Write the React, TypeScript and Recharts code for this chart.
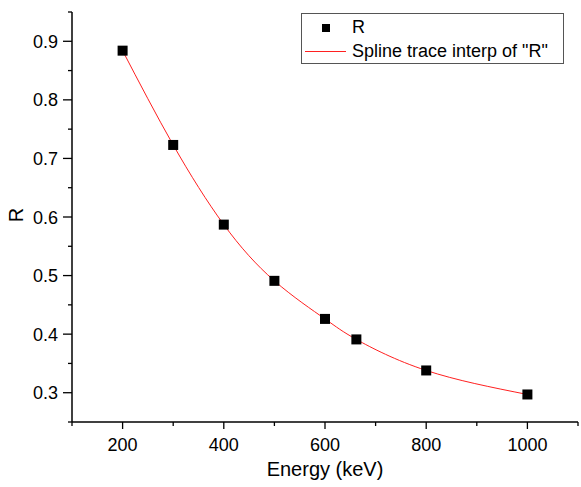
import { ComposedChart, Line, XAxis, YAxis } from "recharts";

const energy = [200, 300, 400, 500, 600, 662, 800, 1000];
const rValues = [0.884, 0.723, 0.587, 0.491, 0.426, 0.391, 0.338, 0.297];
const xTicks = [100, 200, 300, 400, 500, 600, 700, 800, 900, 1000, 1100];
const xLabels = [200, 400, 600, 800, 1000];
const yTicks = [0.25, 0.3, 0.35, 0.4, 0.45, 0.5, 0.55, 0.6, 0.65, 0.7, 0.75, 0.8, 0.85, 0.9, 0.95];
const yLabels = ["0.3", "0.4", "0.5", "0.6", "0.7", "0.8", "0.9"];

const data = energy.map((e, i) => ({ e, r: rValues[i] }));

const FONT = "'Liberation Sans', Arial, sans-serif";

const XTick = (props: any) => {
  const { x, y, payload } = props;
  const major = xLabels.includes(payload.value);
  return (
    <g>
      <line x1={x} x2={x} y1={y} y2={y + (major ? 7 : 4)} stroke="#000" strokeWidth={1.3} />
      {major && (
        <text x={x} y={y + 29} textAnchor="middle" fontSize={18} fill="#000" fontFamily={FONT}>
          {payload.value}
        </text>
      )}
    </g>
  );
};

const YTick = (props: any) => {
  const { x, y, payload } = props;
  const label = payload.value.toFixed(1);
  const major = yLabels.includes(label) && Math.abs(payload.value * 10 - Math.round(payload.value * 10)) < 1e-6;
  return (
    <g>
      <line x1={x - (major ? 9 : 4)} x2={x} y1={y} y2={y} stroke="#000" strokeWidth={1.3} />
      {major && (
        <text x={x - 14} y={y + 6.5} textAnchor="end" fontSize={18} fill="#000" fontFamily={FONT}>
          {label}
        </text>
      )}
    </g>
  );
};

const Square = (props: any) => {
  const { cx, cy } = props;
  if (cx == null || cy == null) return null;
  return <rect x={cx - 5} y={cy - 5} width={10} height={10} fill="#000" />;
};

export default function App() {
  return (
    <div style={{ position: "fixed", left: 0, top: 0, width: 581, height: 487, background: "#fff", fontFamily: FONT }}>
      <ComposedChart width={581} height={487} data={data} margin={{ top: 12, right: 3, left: 12, bottom: 25 }}>
        <XAxis
          dataKey="e"
          type="number"
          domain={[100, 1100]}
          ticks={xTicks}
          interval={0}
          tickSize={0}
          tickMargin={0}
          tickLine={false}
          tick={<XTick />}
          axisLine={{ stroke: "#000", strokeWidth: 1.5 }}
          height={40}
        />
        <YAxis
          type="number"
          domain={[0.25, 0.95]}
          ticks={yTicks}
          interval={0}
          tickSize={0}
          tickMargin={0}
          tickLine={false}
          tick={<YTick />}
          axisLine={{ stroke: "#000", strokeWidth: 1.5 }}
          width={60}
        />
        <Line
          dataKey="r"
          type="natural"
          stroke="#ff2020"
          strokeWidth={1}
          dot={<Square />}
          activeDot={false}
          isAnimationActive={false}
        />
      </ComposedChart>
      <div style={{ position: "absolute", left: 3, top: 202, width: 26, height: 26, lineHeight: "26px", transform: "rotate(-90deg)", fontSize: 20, textAlign: "center" }}>
        R
      </div>
      <div style={{ position: "absolute", left: 72, width: 506, top: 458, textAlign: "center", fontSize: 20 }}>
        Energy (keV)
      </div>
      <div style={{ position: "absolute", left: 301, top: 13, width: 263, height: 51, border: "1px solid #555", boxSizing: "border-box", fontSize: 18 }}>
        <div style={{ position: "absolute", left: 20, top: 10, width: 8, height: 8, background: "#000" }} />
        <div style={{ position: "absolute", left: 50, top: 2, lineHeight: "22px" }}>R</div>
        <div style={{ position: "absolute", left: 3, top: 37, width: 41, height: 1, background: "#ff2020" }} />
        <div style={{ position: "absolute", left: 50, top: 26, lineHeight: "22px" }}>Spline trace interp of "R"</div>
      </div>
    </div>
  );
}
